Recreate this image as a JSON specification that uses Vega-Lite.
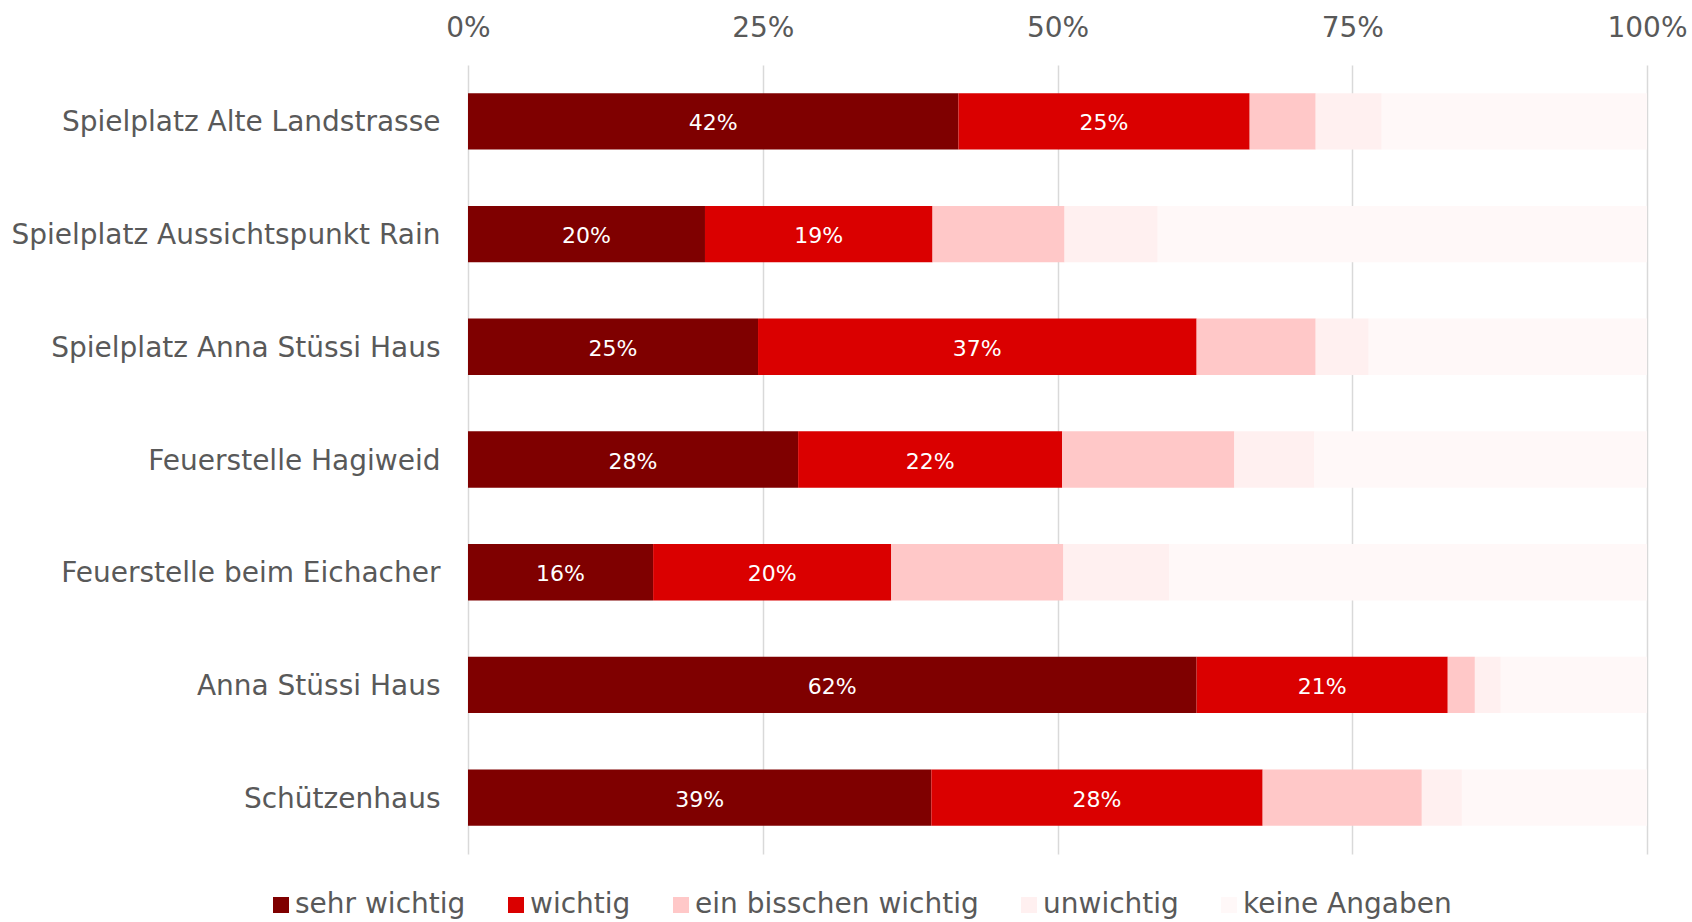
{
  "$schema": "https://vega.github.io/schema/vega-lite/v6.json",
  "width": 1179,
  "height": 789,
  "autosize": {"type": "none"},
  "padding": {"left": 468, "top": 65, "right": 45, "bottom": 68},
  "background": "white",
  "config": {
    "font": "DejaVu Sans",
    "view": {"stroke": null}
  },
  "data": {
    "values": [
      {"place": "Spielplatz Alte Landstrasse", "cat": "sehr wichtig", "value": 0.416},
      {"place": "Spielplatz Alte Landstrasse", "cat": "wichtig", "value": 0.247},
      {"place": "Spielplatz Alte Landstrasse", "cat": "ein bisschen wichtig", "value": 0.056},
      {"place": "Spielplatz Alte Landstrasse", "cat": "unwichtig", "value": 0.056},
      {"place": "Spielplatz Alte Landstrasse", "cat": "keine Angaben", "value": 0.225},
      {"place": "Spielplatz Aussichtspunkt Rain", "cat": "sehr wichtig", "value": 0.201},
      {"place": "Spielplatz Aussichtspunkt Rain", "cat": "wichtig", "value": 0.193},
      {"place": "Spielplatz Aussichtspunkt Rain", "cat": "ein bisschen wichtig", "value": 0.112},
      {"place": "Spielplatz Aussichtspunkt Rain", "cat": "unwichtig", "value": 0.079},
      {"place": "Spielplatz Aussichtspunkt Rain", "cat": "keine Angaben", "value": 0.415},
      {"place": "Spielplatz Anna Stüssi Haus", "cat": "sehr wichtig", "value": 0.246},
      {"place": "Spielplatz Anna Stüssi Haus", "cat": "wichtig", "value": 0.372},
      {"place": "Spielplatz Anna Stüssi Haus", "cat": "ein bisschen wichtig", "value": 0.101},
      {"place": "Spielplatz Anna Stüssi Haus", "cat": "unwichtig", "value": 0.045},
      {"place": "Spielplatz Anna Stüssi Haus", "cat": "keine Angaben", "value": 0.236},
      {"place": "Feuerstelle Hagiweid", "cat": "sehr wichtig", "value": 0.280},
      {"place": "Feuerstelle Hagiweid", "cat": "wichtig", "value": 0.224},
      {"place": "Feuerstelle Hagiweid", "cat": "ein bisschen wichtig", "value": 0.146},
      {"place": "Feuerstelle Hagiweid", "cat": "unwichtig", "value": 0.068},
      {"place": "Feuerstelle Hagiweid", "cat": "keine Angaben", "value": 0.282},
      {"place": "Feuerstelle beim Eichacher", "cat": "sehr wichtig", "value": 0.157},
      {"place": "Feuerstelle beim Eichacher", "cat": "wichtig", "value": 0.202},
      {"place": "Feuerstelle beim Eichacher", "cat": "ein bisschen wichtig", "value": 0.146},
      {"place": "Feuerstelle beim Eichacher", "cat": "unwichtig", "value": 0.090},
      {"place": "Feuerstelle beim Eichacher", "cat": "keine Angaben", "value": 0.405},
      {"place": "Anna Stüssi Haus", "cat": "sehr wichtig", "value": 0.618},
      {"place": "Anna Stüssi Haus", "cat": "wichtig", "value": 0.213},
      {"place": "Anna Stüssi Haus", "cat": "ein bisschen wichtig", "value": 0.023},
      {"place": "Anna Stüssi Haus", "cat": "unwichtig", "value": 0.022},
      {"place": "Anna Stüssi Haus", "cat": "keine Angaben", "value": 0.124},
      {"place": "Schützenhaus", "cat": "sehr wichtig", "value": 0.393},
      {"place": "Schützenhaus", "cat": "wichtig", "value": 0.281},
      {"place": "Schützenhaus", "cat": "ein bisschen wichtig", "value": 0.135},
      {"place": "Schützenhaus", "cat": "unwichtig", "value": 0.034},
      {"place": "Schützenhaus", "cat": "keine Angaben", "value": 0.157}
    ]
  },
  "transform": [
    {"calculate": "indexof(['sehr wichtig','wichtig','ein bisschen wichtig','unwichtig','keine Angaben'], datum.cat)", "as": "ord"},
    {"stack": "value", "groupby": ["place"], "sort": [{"field": "ord", "order": "ascending"}], "offset": "normalize", "as": ["v0", "v1"]},
    {"calculate": "(datum.v0 + datum.v1) / 2", "as": "mid"}
  ],
  "encoding": {
    "y": {
      "field": "place",
      "type": "nominal",
      "sort": ["Spielplatz Alte Landstrasse", "Spielplatz Aussichtspunkt Rain", "Spielplatz Anna Stüssi Haus", "Feuerstelle Hagiweid", "Feuerstelle beim Eichacher", "Anna Stüssi Haus", "Schützenhaus"],
      "scale": {"paddingInner": 0.5, "paddingOuter": 0.25},
      "axis": {
        "title": null,
        "labelFontSize": 28,
        "labelColor": "#595959",
        "labelPadding": 28,
        "labelOffset": 2,
        "labelLimit": 600,
        "ticks": false,
        "domain": false,
        "grid": false
      }
    }
  },
  "layer": [
    {
      "mark": {"type": "bar"},
      "encoding": {
        "x": {
          "field": "v0",
          "type": "quantitative",
          "scale": {"domain": [0, 1]},
          "axis": {
            "orient": "top",
            "title": null,
            "format": ".0%",
            "values": [0, 0.25, 0.5, 0.75, 1],
            "labelFontSize": 28,
            "labelColor": "#595959",
            "labelPadding": 23,
            "labelFlush": false,
            "labelOverlap": false,
            "ticks": false,
            "domain": false,
            "grid": true,
            "gridColor": "#D9D9D9",
            "gridWidth": 1.5
          }
        },
        "x2": {"field": "v1"},
        "color": {
          "field": "cat",
          "type": "nominal",
          "scale": {
            "domain": ["sehr wichtig", "wichtig", "ein bisschen wichtig", "unwichtig", "keine Angaben"],
            "range": ["#7F0000", "#DA0000", "#FFC8C8", "#FFF0F0", "#FFF8F8"]
          },
          "legend": {
            "title": null,
            "orient": "none",
            "direction": "horizontal",
            "legendX": -201,
            "legendY": 826,
            "symbolType": "square",
            "symbolSize": 256,
            "symbolStrokeWidth": 0,
            "labelFontSize": 28,
            "labelColor": "#595959",
            "labelOffset": 0,
            "columnPadding": 36,
            "labelLimit": 600
          }
        }
      }
    },
    {
      "transform": [{"filter": "datum.ord < 2"}],
      "mark": {"type": "text", "color": "white", "fontSize": 22, "dy": 2},
      "encoding": {
        "x": {"field": "mid", "type": "quantitative"},
        "text": {"field": "value", "type": "quantitative", "format": ".0%"}
      }
    }
  ]
}
